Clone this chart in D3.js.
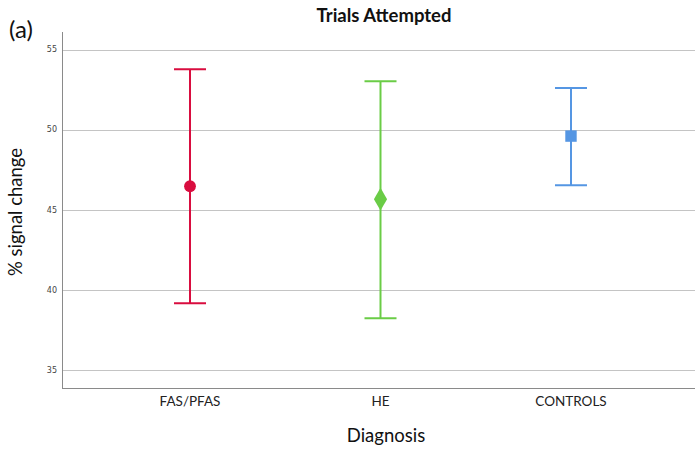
<!DOCTYPE html>
<html>
<head>
<meta charset="utf-8">
<script src="https://cdn.jsdelivr.net/npm/d3@7"></script>
<style>
	body { margin: 0; background: #fff; }
	text { font-family: Lato, "Open Sans", sans-serif; }
</style>
</head>
<body>
<svg id="chart" width="695" height="450"></svg>
<script>
// diagnosis groups and their means with error bar ends
var groups = ["FAS/PFAS", "HE", "CONTROLS"];
var means = [46.47, 45.66, 49.6];
var upper = [53.78, 53.03, 52.6];
var lower = [39.16, 38.22, 46.53];
var yTicks = [35, 40, 45, 50, 55];

var colors = ["#d90d3f", "#6acc46", "#5596e3"];
var shapes = [d3.symbolCircle, d3.symbolDiamond, d3.symbolSquare];
var sizes = [110, 150, 130];

var margin = {left: 62, right: 0, top: 32, bottom: 62};
var svg = d3.select("#chart");
var W = 695, H = 450;

var x = d3.scalePoint().domain(groups).range([margin.left, 699]).padding(0.672);
var y = d3.scaleLinear().domain([33.87, 56.1]).range([H - margin.bottom, margin.top]);

// gridlines
svg.append("g").selectAll("line").data(yTicks).enter().append("line")
	.attr("x1", margin.left).attr("x2", W)
	.attr("y1", function(d) { return Math.round(y(d)) + 0.5; })
	.attr("y2", function(d) { return Math.round(y(d)) + 0.5; })
	.attr("stroke", "#c4c4c4").attr("stroke-width", 1);

// y tick labels
svg.append("g").selectAll("text").data(yTicks).enter().append("text")
	.attr("x", 57).attr("y", function(d) { return y(d); }).attr("dy", "0.35em")
	.attr("text-anchor", "end").attr("fill", "#444")
	.style("font-family", "'DejaVu Sans', sans-serif").style("font-size", "8px")
	.text(function(d) { return d; });

// axes lines
var yBottom = Math.round(y.range()[0]) + 0.5;
svg.append("line").attr("x1", margin.left + 0.5).attr("x2", margin.left + 0.5)
	.attr("y1", margin.top).attr("y2", yBottom).attr("stroke", "#8a8a8a");
svg.append("line").attr("x1", margin.left).attr("x2", W)
	.attr("y1", yBottom).attr("y2", yBottom).attr("stroke", "#8a8a8a");

// x tick labels
svg.append("g").selectAll("text").data(groups).enter().append("text")
	.attr("x", function(d) { return x(d); }).attr("y", 406)
	.attr("text-anchor", "middle").attr("font-size", 13.5).attr("fill", "#222")
	.text(function(d) { return d; });

// error bars
var cap = 16;
groups.forEach(function(g, i) {
	var gx = x(g);
	var bar = svg.append("g").attr("stroke", colors[i]).attr("stroke-width", 2);
	bar.append("line").attr("x1", gx).attr("x2", gx).attr("y1", y(upper[i])).attr("y2", y(lower[i]));
	bar.append("line").attr("x1", gx - cap).attr("x2", gx + cap).attr("y1", y(upper[i])).attr("y2", y(upper[i]));
	bar.append("line").attr("x1", gx - cap).attr("x2", gx + cap).attr("y1", y(lower[i])).attr("y2", y(lower[i]));
	svg.append("path")
		.attr("d", d3.symbol().type(shapes[i]).size(sizes[i])())
		.attr("transform", "translate(" + gx + "," + y(means[i]) + ")")
		.attr("fill", colors[i]);
});

// titles
svg.append("text").attr("x", 384).attr("y", 22).attr("text-anchor", "middle")
	.attr("font-size", 18.5).attr("font-weight", "bold").attr("fill", "#111").text("Trials Attempted");
svg.append("text").attr("x", 9).attr("y", 38).attr("font-size", 24).attr("fill", "#111").text("(a)");
svg.append("text").attr("x", 386).attr("y", 442).attr("text-anchor", "middle")
	.attr("font-size", 18.5).attr("fill", "#111").text("Diagnosis");
svg.append("text").attr("transform", "translate(22,212) rotate(-90)").attr("text-anchor", "middle")
	.attr("font-size", 18.5).attr("fill", "#111").text("% signal change");
</script>
</body>
</html>
